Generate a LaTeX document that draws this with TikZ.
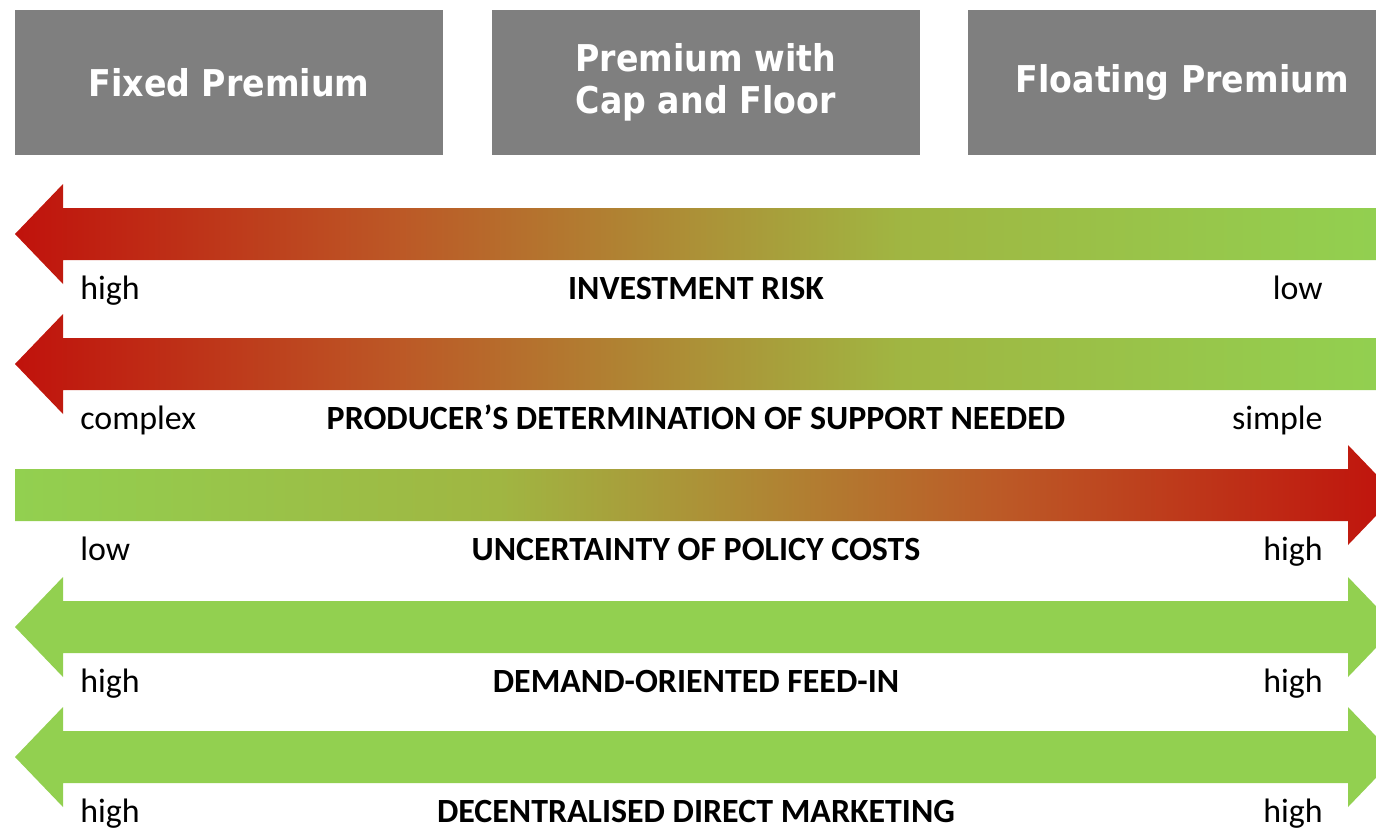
\documentclass[tikz,border=0pt]{standalone}
\usepackage{fontspec}
\setmainfont{Carlito}
\newfontfamily\headfont[FakeStretch=0.9]{DejaVu Sans}
\usetikzlibrary{positioning}

\definecolor{boxgrey}{RGB}{127,127,127}
\definecolor{arrred}{RGB}{192,18,12}
\definecolor{arrorange}{RGB}{188,88,38}
\definecolor{arrolive}{RGB}{172,145,55}
\definecolor{arrlime}{RGB}{160,182,66}
\definecolor{arrgreen}{RGB}{146,208,80}

\pgfdeclarehorizontalshading{redgreen}{100bp}{color(0bp)=(arrred); color(25bp)=(arrred);
  color(39bp)=(arrorange); color(50bp)=(arrolive); color(57.5bp)=(arrlime);
  color(75bp)=(arrgreen); color(100bp)=(arrgreen)}

\tikzset{
  headbox/.style={fill=boxgrey, text=white, minimum width=8.56cm, minimum height=2.9cm,
    inner sep=0pt, align=center, font=\headfont\bfseries\fontsize{21}{24}\selectfont},
  lbl/.style={inner sep=0pt, font=\fontsize{19.3}{21}\selectfont},
}

\begin{document}
\begin{tikzpicture}[x=0.02cm,y=-0.02cm]

    \useasboundingbox (0,0) rectangle (1376,829);
    \clip (0,0) rectangle (1376,829);

    % the three kinds of premium
    \node[headbox] (fixed) at (229,82.5) {Fixed Premium};
    \node[headbox, right=0.96cm of fixed] (capfloor) {Premium with\\Cap and Floor};
    \node[headbox, right=0.96cm of capfloor] (floating) {Floating Premium};

    % arrows pointing left
    \foreach \c in {234,364} {
      \shade[shading=redgreen] (15,\c) -- (63,\c-50) -- (63,\c-26) -- (1380,\c-26)
        -- (1380,\c+26) -- (63,\c+26) -- (63,\c+50) -- cycle;
    }

    % arrow pointing right
    \shade[shading=redgreen, shading angle=180] (15,469) -- (1348,469) -- (1348,445)
      -- (1396,495) -- (1348,545) -- (1348,521) -- (15,521) -- cycle;

    % arrows pointing both ways
    \foreach \c in {627,757} {
      \fill[arrgreen] (15,\c) -- (63,\c-50) -- (63,\c-26) -- (1348,\c-26) -- (1348,\c-50)
        -- (1396,\c) -- (1348,\c+50) -- (1348,\c+26) -- (63,\c+26) -- (63,\c+50) -- cycle;
    }

    \foreach \c/\lft/\ttl/\rgt [count=\i] in {
        234/high/INVESTMENT RISK/low,
        364/complex/PRODUCER’S DETERMINATION OF SUPPORT NEEDED/simple,
        495/low/UNCERTAINTY OF POLICY COSTS/high,
        627/high/DEMAND-ORIENTED FEED-IN/high,
        757/high/DECENTRALISED DIRECT MARKETING/high} {
      \node[lbl, anchor=base west] (lo\i) at (80,\c+65) {\lft};
      \node[lbl, anchor=base, font=\bfseries\fontsize{19.3}{21}\selectfont] (ttl\i) at (696,\c+65) {\ttl};
      \node[lbl, anchor=base east] (hi\i) at (1323,\c+65) {\rgt};
    }

  \end{tikzpicture}
\end{document}
